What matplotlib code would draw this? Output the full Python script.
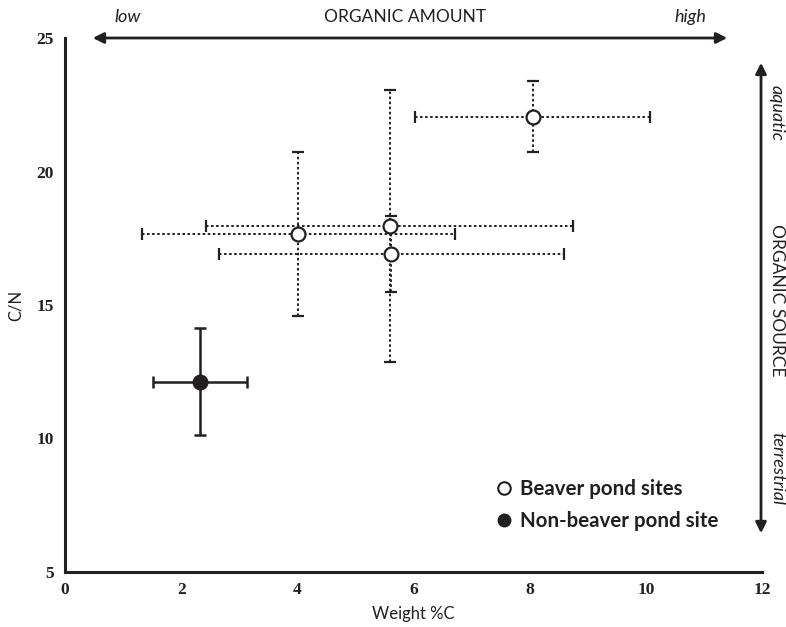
import matplotlib
matplotlib.use("Agg")
import matplotlib.pyplot as plt
from matplotlib.lines import Line2D

# ---- data ----
beaver_x = [8.05, 4.02, 5.59, 5.62]
beaver_y = [22.05, 17.65, 17.97, 16.91]
beaver_xerr = [2.02, 2.70, 3.16, 2.97]
beaver_yerr = [1.33, 3.07, 5.09, 1.44]

non_x = [2.33]
non_y = [12.12]
non_xerr = [0.81]
non_yerr = [2.00]

x_ticks = [0, 2, 4, 6, 8, 10, 12]
y_ticks = [5, 10, 15, 20, 25]

SANS = ["Lato", "DejaVu Sans"]
SERIF = ["Liberation Serif", "DejaVu Serif"]
INK = "#231f20"

fig = plt.figure(figsize=(7.86, 6.27), dpi=100)
ax = fig.add_axes([65/786, 1-572/627, 697/786, 534/627])

# beaver pond sites: dotted error bars, open circles
eb = ax.errorbar(beaver_x, beaver_y, xerr=beaver_xerr, yerr=beaver_yerr,
                 fmt="o", ms=10, mfc="white", mec=INK, mew=1.6,
                 ecolor=INK, elinewidth=1.4, capsize=4.5, capthick=1.8, zorder=3)
for lc in eb[2]:
    lc.set_linestyle((0, (1.3, 1.3)))

# non-beaver pond site: solid error bars, filled circle
ax.errorbar(non_x, non_y, xerr=non_xerr, yerr=non_yerr,
            fmt="o", ms=10.5, mfc=INK, mec=INK,
            ecolor=INK, elinewidth=1.8, capsize=4.5, capthick=1.8, zorder=3)

ax.set_xlim(0, 12)
ax.set_ylim(5, 25)
ax.set_xticks(x_ticks)
ax.set_yticks(y_ticks)
ax.set_xticklabels([str(t) for t in x_ticks], fontfamily=SERIF, fontweight="bold", fontsize=12.5, color=INK)
ax.set_yticklabels([str(t) for t in y_ticks], fontfamily=SERIF, fontweight="bold", fontsize=12.5, color=INK)
ax.tick_params(axis="both", length=0)
ax.tick_params(axis="y", pad=8)
ax.tick_params(axis="x", pad=7)
for s in ["top", "right"]:
    ax.spines[s].set_visible(False)
for s in ["left", "bottom"]:
    ax.spines[s].set_linewidth(2.2)
    ax.spines[s].set_color(INK)

ax.set_xlabel("Weight %C", fontfamily=SANS, fontsize=12, color=INK, labelpad=6)
ax.set_ylabel("C/N", fontfamily=SANS, fontsize=12, color=INK, labelpad=9)

# top arrow: organic amount
fig.add_artist(matplotlib.patches.FancyArrowPatch(
    (90/786, 1-38/627), (730/786, 1-38/627), transform=fig.transFigure,
    arrowstyle="<|-|>", mutation_scale=16, lw=2.0, color=INK))
fig.text(128/786, 1-17/627, "low", fontfamily=SANS, style="italic", fontsize=13,
         ha="center", va="center", color=INK)
fig.text(405/786, 1-17/627, "ORGANIC AMOUNT", fontfamily=SANS, fontsize=12.5,
         ha="center", va="center", color=INK)
fig.text(690/786, 1-17/627, "high", fontfamily=SANS, style="italic", fontsize=13,
         ha="center", va="center", color=INK)

# right arrow: organic source
fig.add_artist(matplotlib.patches.FancyArrowPatch(
    (761/786, 1-60/627), (761/786, 1-536/627), transform=fig.transFigure,
    arrowstyle="<|-|>", mutation_scale=16, lw=2.0, color=INK))
fig.text(777/786, 1-113/627, "aquatic", fontfamily=SANS, style="italic", fontsize=13,
         ha="center", va="center", rotation=-90, color=INK)
fig.text(777/786, 1-300/627, "ORGANIC SOURCE", fontfamily=SANS, fontsize=12.5,
         ha="center", va="center", rotation=-90, color=INK)
fig.text(777/786, 1-468/627, "terrestrial", fontfamily=SANS, style="italic", fontsize=13,
         ha="center", va="center", rotation=-90, color=INK)

# legend
handles = [
    Line2D([], [], ls="none", marker="o", ms=9, mfc="white", mec=INK, mew=1.5),
    Line2D([], [], ls="none", marker="o", ms=9, mfc=INK, mec=INK),
]
ax.legend(handles, ["Beaver pond sites", "Non-beaver pond site"],
          loc="upper left", bbox_to_anchor=((496-65)/697, (572-479)/534),
          frameon=False, handlelength=0.8, handletextpad=0.35, borderpad=0,
          borderaxespad=0, labelspacing=0.6,
          prop={"family": SANS, "weight": "bold", "size": 14.8}, labelcolor=INK)

fig.savefig("out.png", dpi=100)
